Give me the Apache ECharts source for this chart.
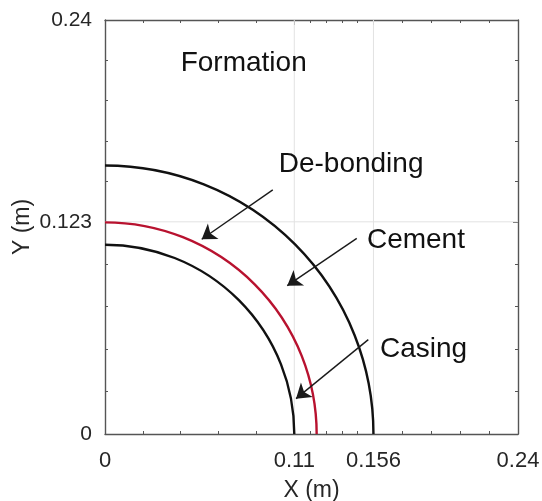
<!DOCTYPE html>
<html>
<head>
<meta charset="utf-8">
<script src="https://cdn.jsdelivr.net/npm/echarts@6/dist/echarts.min.js"></script>
<style>
  html, body { margin: 0; padding: 0; background: #ffffff; }
  #chart { width: 542px; height: 501px; }
</style>
</head>
<body>
<div id="chart"></div>
<script>
// Axis ticks (metres)
const xTicks = [0, 0.11, 0.156, 0.24];
const xTickLabels = ['0', '0.11', '0.156', '0.24'];
const yTicks = [0, 0.123, 0.24];
const yTickLabels = ['0', '0.123', '0.24'];

// Quarter-section radii (m): casing outer wall and cement outer wall
const wallRadii = [0.11, 0.156];
// Radius of the de-bonded interface (m)
const debondRadii = [0.123];

// Region annotations: text and anchor position (x, y in m)
const noteTexts = ['Formation', 'De-bonding', 'Cement', 'Casing'];
const noteX = [0.0806, 0.1430, 0.1807, 0.1851];
const noteY = [0.2150, 0.1566, 0.1122, 0.0490];

// Arrows: tail (x, y) -> head (x, y), in m
const arrowTail = [[0.0975, 0.1415], [0.1463, 0.1134], [0.1530, 0.0547]];
const arrowHead = [[0.0562, 0.1129], [0.1059, 0.0860], [0.1110, 0.0205]];

const FONT = '"Liberation Sans", Arial, Helvetica, sans-serif';
const AXIS_COLOR = '#555555';
const TEXT_COLOR = '#262626';

// Minor ticks: four evenly spaced marks inside each major interval
function minorTicks(ticks, parts) {
  const out = [];
  for (let i = 0; i < ticks.length - 1; i++) {
    const a = ticks[i], b = ticks[i + 1];
    for (let k = 1; k < parts; k++) out.push(a + (b - a) * k / parts);
  }
  return out;
}
const xMinor = minorTicks(xTicks, 5);
const yMinor = minorTicks(yTicks, 5);

function labelOf(ticks, labels) {
  return function (v) {
    for (let i = 0; i < ticks.length; i++) {
      if (Math.abs(ticks[i] - v) < 1e-9) return labels[i];
    }
    return String(v);
  };
}

function axis(pos, min, max, tickValues, tickLen, opts) {
  opts = opts || {};
  return Object.assign({
    type: 'value',
    position: pos,
    min: min,
    max: max,
    splitLine: { show: false },
    axisLine: { show: !!opts.line, onZero: false, lineStyle: { color: AXIS_COLOR, width: 1.4 } },
    axisTick: { show: true, inside: true, length: tickLen, customValues: tickValues,
                lineStyle: { color: AXIS_COLOR, width: 1 } },
    axisLabel: { show: false }
  }, opts.extra || {});
}

const xAxes = [
  axis('bottom', 0, 0.24, xTicks, 5, { line: true, extra: {
    axisLabel: { show: true, customValues: xTicks, formatter: labelOf(xTicks, xTickLabels),
                 fontSize: 22, color: TEXT_COLOR, fontFamily: FONT, margin: 16,
                 showMinLabel: true, showMaxLabel: true },
    name: 'X (m)', nameLocation: 'middle', nameGap: 45, nameMoveOverlap: false,
    nameTextStyle: { fontSize: 23, color: TEXT_COLOR, fontFamily: FONT }
  }}),
  axis('bottom', 0, 0.24, xMinor, 3),
  axis('top', 0, 0.24, xTicks, 5, { line: true }),
  axis('top', 0, 0.24, xMinor, 3)
];

const yAxes = [
  axis('left', 0, 0.24, yTicks, 5, { line: true, extra: {
    axisLabel: { show: true, customValues: yTicks, formatter: labelOf(yTicks, yTickLabels),
                 fontSize: 21, color: TEXT_COLOR, fontFamily: FONT, margin: 13,
                 showMinLabel: true, showMaxLabel: true },
    name: 'Y (m)', nameLocation: 'middle', nameGap: 71, nameRotate: 90, nameMoveOverlap: false,
    nameTextStyle: { fontSize: 23, color: TEXT_COLOR, fontFamily: FONT }
  }}),
  axis('left', 0, 0.24, yMinor, 3),
  axis('right', 0, 0.24, yTicks, 5, { line: true }),
  axis('right', 0, 0.24, yMinor, 3)
];

// Light grid at interior major ticks
function gridSeries(dim, values) {
  return {
    type: 'custom',
    silent: true,
    z: 1,
    data: values.map(v => dim === 'x' ? [v, 0] : [0, v]),
    encode: { x: 0, y: 1 },
    renderItem: function (params, api) {
      const cs = params.coordSys;
      const p = api.coord([api.value(0), api.value(1)]);
      const shape = dim === 'x'
        ? { x1: p[0], y1: cs.y, x2: p[0], y2: cs.y + cs.height }
        : { x1: cs.x, y1: p[1], x2: cs.x + cs.width, y2: p[1] };
      return { type: 'line', shape: shape, style: { stroke: '#e2e2e2', lineWidth: 1 } };
    }
  };
}

// Quarter circle centred on the origin, radius taken from the data
function ringSeries(name, radii, color) {
  return {
    type: 'custom',
    name: name,
    silent: true,
    z: 3,
    clip: true,
    data: radii.map(r => [r, r]),
    encode: { x: 0, y: 1 },
    renderItem: function (params, api) {
      const r = api.value(0);
      const c = api.coord([0, 0]);
      const size = api.size([r, r]);
      return {
        type: 'arc',
        shape: { cx: c[0], cy: c[1], r: size[0], startAngle: -Math.PI / 2, endAngle: 0, clockwise: true },
        style: { stroke: color, lineWidth: 2.4, fill: null }
      };
    }
  };
}

const option = {
  animation: false,
  backgroundColor: '#ffffff',
  grid: { left: 105, right: 24, top: 20, bottom: 67, containLabel: false, outerBoundsMode: 'none' },
  xAxis: xAxes,
  yAxis: yAxes,
  series: [
    gridSeries('x', xTicks.slice(1, -1)),
    gridSeries('y', yTicks.slice(1, -1)),
    ringSeries('Walls', wallRadii, '#111111'),
    ringSeries('De-bonding', debondRadii, '#b8122f'),
    {
      type: 'lines',
      coordinateSystem: 'cartesian2d',
      silent: true,
      z: 4,
      symbol: ['none', 'arrow'],
      symbolSize: 14,
      lineStyle: { color: '#1a1a1a', width: 1.4, opacity: 1 },
      data: arrowTail.map((t, i) => ({ coords: [t, arrowHead[i]] }))
    },
    {
      type: 'custom',
      silent: true,
      z: 5,
      data: noteX.map((x, i) => [x, noteY[i]]),
      encode: { x: 0, y: 1 },
      renderItem: function (params, api) {
        const p = api.coord([api.value(0), api.value(1)]);
        return {
          type: 'text',
          x: p[0], y: p[1],
          style: {
            text: noteTexts[params.dataIndex],
            font: '28px ' + FONT,
            fill: '#111111',
            align: 'center',
            verticalAlign: 'middle'
          }
        };
      }
    }
  ]
};

const chart = echarts.init(document.getElementById('chart'), null, { renderer: 'canvas' });
chart.setOption(option);
</script>
</body>
</html>
